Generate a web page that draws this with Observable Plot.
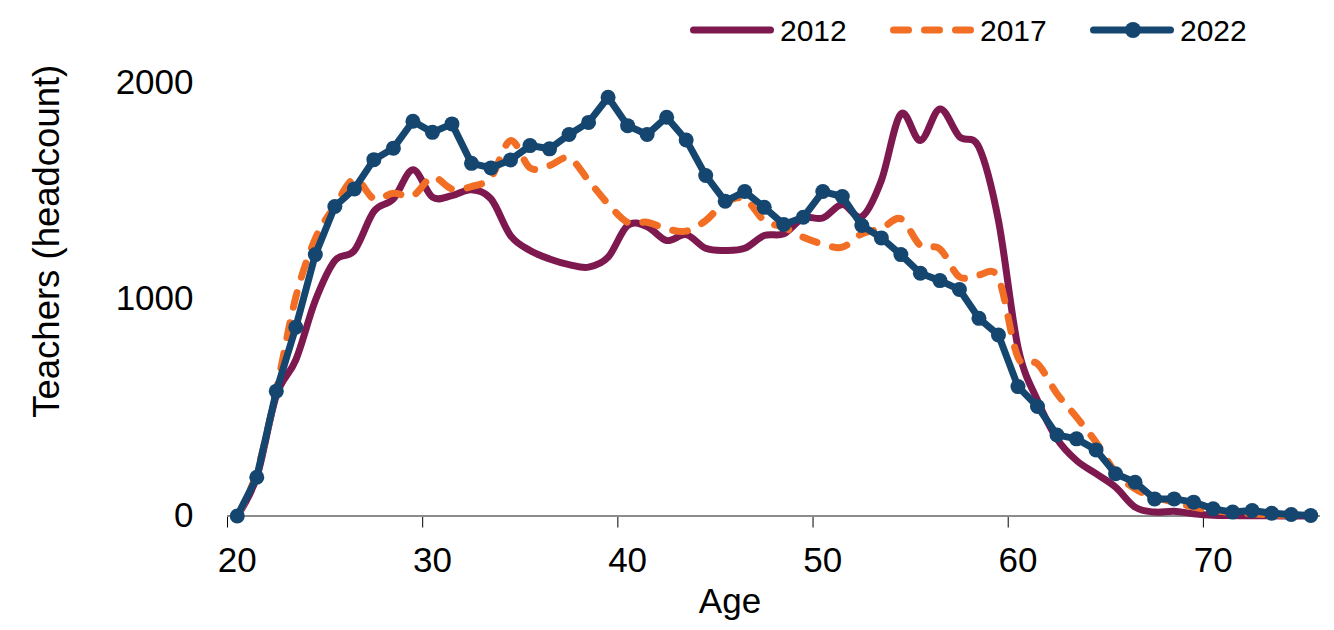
<!DOCTYPE html>
<html><head><meta charset="utf-8">
<script src="https://cdn.jsdelivr.net/npm/d3@7"></script>
<script src="https://cdn.jsdelivr.net/npm/@observablehq/plot@0.6"></script>
<style>
html,body{margin:0;padding:0;background:#fff;}
#wrap{position:relative;width:1334px;height:630px;font-family:"Liberation Sans",Arial,sans-serif;}
#legend{height:60px;}
#chart svg{display:block;}
</style></head><body>
<div id="wrap"><div id="legend"></div><div id="chart"></div></div>
<script>
const ages = [20,21,22,23,24,25,26,27,28,29,30,31,32,33,34,35,36,37,38,39,40,41,42,43,44,45,46,47,48,49,50,51,52,53,54,55,56,57,58,59,60,61,62,63,64,65,66,67,68,69,70,71,72,73,74,75];
const teachers2012 = [0,180,555,720,994,1178,1225,1405,1463,1597,1471,1478,1505,1463,1294,1225,1186,1160,1148,1194,1340,1335,1271,1298,1235,1225,1235,1294,1302,1375,1375,1437,1381,1548,1855,1732,1878,1750,1701,1363,779,533,356,256,195,133,41,18,22,10,3,2,1,1,0,0];
const teachers2017 = [0,200,580,1010,1280,1430,1555,1464,1489,1478,1563,1509,1520,1563,1732,1606,1617,1652,1548,1440,1355,1355,1325,1314,1363,1447,1463,1363,1332,1286,1255,1240,1302,1326,1371,1248,1232,1103,1113,1097,732,702,564,456,340,202,125,87,64,41,25,15,10,5,3,2];
const teachers2022 = [0,179,576,871,1206,1428,1509,1644,1697,1821,1770,1809,1627,1606,1643,1709,1694,1760,1816,1932,1801,1760,1840,1735,1571,1452,1497,1424,1345,1378,1497,1474,1340,1283,1206,1120,1086,1045,912,835,597,505,374,356,305,195,156,79,79,64,33,18,25,13,7,2];
const seriesNames = ["2012","2017","2022"];
const seriesColors = ["#7E1950","#F26E24","#15466F"];
const xTickBounds = [19.5,29.5,39.5,49.5,59.5,69.5];
const xTickLabels = [20,30,40,50,60,70];
const yTicks = [0,1000,2000];
const xTitle = "Age";
const yTitle = "Teachers (headcount)";

const rows = s => ages.map((a,i)=>({age:a, value:s[i]}));
const d2012 = rows(teachers2012), d2017 = rows(teachers2017), d2022 = rows(teachers2022);
const FONT = '"Liberation Sans", Arial, sans-serif';

const chart = Plot.plot({
  width:1334, height:570,
  marginLeft:227, marginRight:14, marginTop:22, marginBottom:114.5,
  style:{fontFamily:FONT, fontSize:"35px", color:"#000", background:"#fff", overflow:"visible"},
  x:{type:"linear", domain:[19.5,75.5]},
  y:{domain:[0,2000]},
  marks:[
    Plot.axisY({ticks:yTicks, tickSize:0, tickPadding:34, fontSize:35, label:null, tickFormat:d=>String(d)}),
    Plot.axisX({ticks:xTickBounds, tickSize:12, tickFormat:()=>"", fill:"none", label:null, stroke:"#000", strokeWidth:1}),
    Plot.axisX({ticks:xTickLabels, tickSize:0, tickPadding:31, fontSize:35, label:null, tickFormat:d=>String(d)}),
    Plot.ruleY([0], {stroke:"#8c8c8c", strokeWidth:2}),
    Plot.text([xTitle], {text:d=>d, frameAnchor:"bottom", dx:-44, dy:97, lineAnchor:"bottom", fontSize:35, fill:"#000"}),
    Plot.text([yTitle], {text:d=>d, frameAnchor:"left", textAnchor:"middle", lineAnchor:"middle", rotate:-90, dx:-180, dy:-58, fontSize:36.5, fill:"#000"}),
    Plot.line(d2012, {x:"age", y:"value", stroke:seriesColors[0], strokeWidth:7, curve:"cardinal", strokeLinejoin:"round"}),
    Plot.line(d2017, {x:"age", y:"value", stroke:seriesColors[1], strokeWidth:7, curve:"cardinal", strokeDasharray:"15,16", strokeLinecap:"round"}),
    Plot.line(d2022, {x:"age", y:"value", stroke:seriesColors[2], strokeWidth:7, strokeLinejoin:"round"}),
    Plot.dot(d2022, {x:"age", y:"value", r:7.5, fill:seriesColors[2], stroke:"none"})
  ]
});
document.getElementById("chart").appendChild(chart);

// legend
const lg = d3.select("#legend").append("svg").attr("width",1334).attr("height",60)
  .style("display","block").style("font-family",FONT);
const starts = [690, 890, 1090];
seriesNames.forEach((name,i)=>{
  const x0 = starts[i];
  const g = lg.append("g");
  const ln = g.append("line").attr("x1",x0+3.5).attr("x2",x0+80.5).attr("y1",30).attr("y2",30)
    .attr("stroke",seriesColors[i]).attr("stroke-width",7).attr("stroke-linecap","round");
  if (i===1) ln.attr("stroke-dasharray","15,16");
  if (i===2) g.append("circle").attr("cx",x0+43).attr("cy",30).attr("r",8).attr("fill",seriesColors[i]);
  g.append("text").attr("x",x0+90).attr("y",41).attr("font-size",30).attr("fill","#000").text(name);
});
</script>
</body></html>
